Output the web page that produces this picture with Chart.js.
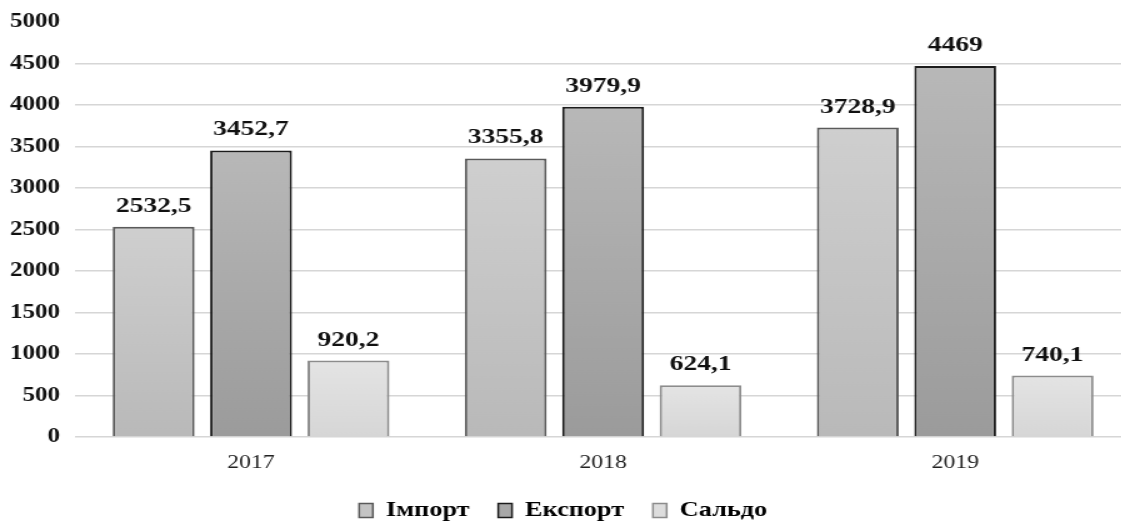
<!DOCTYPE html>
<html>
<head>
<meta charset="utf-8">
<script src="https://cdn.jsdelivr.net/npm/chart.js@4.4.0/dist/chart.umd.min.js"></script>
<style>
  html, body { margin: 0; padding: 0; background: #fff; overflow: hidden; }
  #wrap {
    width: 905px; height: 525px;
    transform: scaleX(1.25); transform-origin: 0 0;
  }
</style>
</head>
<body>
<div id="wrap"><canvas id="grafica"></canvas></div>
<script>
// Datos del gráfico
const anios = ['2017', '2018', '2019'];
const importData = [2532.5, 3355.8, 3728.9];
const exportData = [3452.7, 3979.9, 4469];
const saldoData = [920.2, 624.1, 740.1];
const yTicks = [0, 500, 1000, 1500, 2000, 2500, 3000, 3500, 4000, 4500, 5000];

const serif = "'Liberation Serif', 'Times New Roman', serif";

// Degradado vertical por barra
function degradado(arriba, abajo) {
  return function (context) {
    const chart = context.chart;
    const y = chart.scales.y;
    if (!chart.chartArea || !y || context.raw == null) return abajo;
    const top = y.getPixelForValue(context.raw);
    const bottom = y.getPixelForValue(0);
    const g = chart.ctx.createLinearGradient(0, top, 0, bottom);
    g.addColorStop(0, arriba);
    g.addColorStop(1, abajo);
    return g;
  };
}

// Etiquetas de valor encima de cada barra
const etiquetas = {
  id: 'etiquetas',
  afterDatasetsDraw(chart) {
    const ctx = chart.ctx;
    ctx.save();
    ctx.font = 'bold 22px ' + serif;
    ctx.fillStyle = '#111';
    ctx.textAlign = 'center';
    ctx.textBaseline = 'alphabetic';
    chart.data.datasets.forEach((ds, i) => {
      chart.getDatasetMeta(i).data.forEach((bar, j) => {
        const txt = String(ds.data[j]).replace('.', ',');
        ctx.fillText(txt, bar.x, bar.y - 15);
      });
    });
    ctx.restore();
  }
};

const data = {
  labels: anios,
  datasets: [
    {
      label: 'Імпорт',
      data: importData,
      backgroundColor: degradado('#cfcfcf', '#b9b9b9'),
      borderColor: '#5a5a5a',
      borderWidth: 2
    },
    {
      label: 'Експорт',
      data: exportData,
      backgroundColor: degradado('#b8b8b8', '#9b9b9b'),
      borderColor: '#1c1c1c',
      borderWidth: 2
    },
    {
      label: 'Сальдо',
      data: saldoData,
      backgroundColor: degradado('#e4e4e4', '#d6d6d6'),
      borderColor: '#8c8c8c',
      borderWidth: 2
    }
  ]
};

const config = {
  type: 'bar',
  data: data,
  plugins: [etiquetas],
  options: {
    responsive: true,
    maintainAspectRatio: false,
    animation: false,
    categoryPercentage: 0.83,
    barPercentage: 0.84,
    layout: { padding: { left: -4, right: 0, top: 22, bottom: -6 } },
    plugins: {
      tooltip: { enabled: false },
      legend: {
        position: 'bottom',
        labels: {
          color: '#111',
          font: { family: serif, size: 21, weight: 'bold' },
          boxWidth: 11,
          boxHeight: 14,
          padding: 23,
          generateLabels(chart) {
            const fills = ['#c4c4c4', '#a8a8a8', '#dddddd'];
            return chart.data.datasets.map((ds, i) => ({
              text: ds.label,
              fillStyle: fills[i],
              strokeStyle: ds.borderColor,
              lineWidth: 1.5,
              datasetIndex: i
            }));
          }
        }
      }
    },
    scales: {
      x: {
        grid: { display: false, drawTicks: false },
        border: { display: false },
        afterFit(axis) {
          axis.height = 40;
        },
        ticks: {
          color: '#222',
          padding: 17,
          font: { family: serif, size: 19, lineHeight: 1 }
        }
      },
      y: {
        min: 0,
        max: 5000,
        afterBuildTicks(axis) {
          axis.ticks = yTicks.map(v => ({ value: v }));
        },
        afterFit(axis) {
          axis.paddingTop = 0;
          axis.paddingBottom = 0;
        },
        border: { display: false },
        grid: {
          drawTicks: false,
          lineWidth: 1.5,
          color: c => (c.tick && c.tick.value === 5000 ? 'rgba(0,0,0,0)' : '#d6d6d6')
        },
        ticks: {
          color: '#111',
          padding: 12,
          font: { family: serif, size: 20, weight: 'bold' },
          callback: v => String(v)
        }
      }
    }
  }
};

const ctx = document.getElementById('grafica');
const grafica = new Chart(ctx, config);
</script>
</body>
</html>
